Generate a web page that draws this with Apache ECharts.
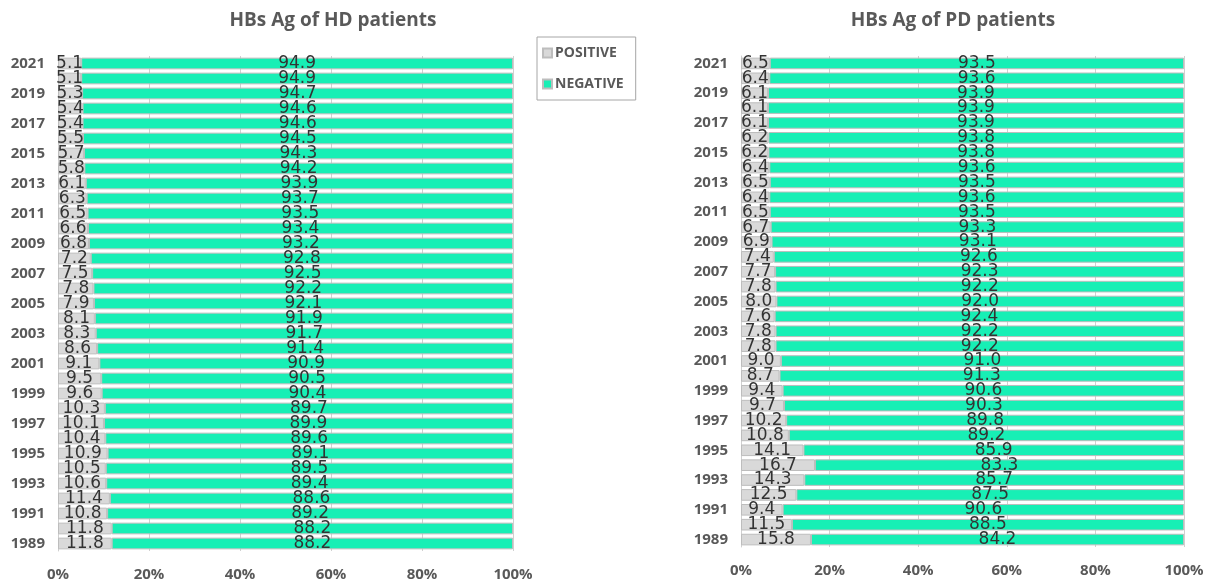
<!DOCTYPE html>
<html>
<head>
<meta charset="utf-8">
<script src="https://cdn.jsdelivr.net/npm/echarts@6/dist/echarts.min.js"></script>
<style>
html,body{margin:0;padding:0;background:#fff;}
#c{width:1211px;height:586px;}
</style>
</head>
<body>
<div id="c"></div>
<script>
const years = [];
for (let y = 1989; y <= 2021; y++) years.push(String(y));

const hdPositive = [11.8,11.8,10.8,11.4,10.6,10.5,10.9,10.4,10.1,10.3,9.6,9.5,9.1,8.6,8.3,8.1,7.9,7.8,7.5,7.2,6.8,6.6,6.5,6.3,6.1,5.8,5.7,5.5,5.4,5.4,5.3,5.1,5.1];
const hdNegative = [88.2,88.2,89.2,88.6,89.4,89.5,89.1,89.6,89.9,89.7,90.4,90.5,90.9,91.4,91.7,91.9,92.1,92.2,92.5,92.8,93.2,93.4,93.5,93.7,93.9,94.2,94.3,94.5,94.6,94.6,94.7,94.9,94.9];
const pdPositive = [15.8,11.5,9.4,12.5,14.3,16.7,14.1,10.8,10.2,9.7,9.4,8.7,9.0,7.8,7.8,7.6,8.0,7.8,7.7,7.4,6.9,6.7,6.5,6.4,6.5,6.4,6.2,6.2,6.1,6.1,6.1,6.4,6.5];
const pdNegative = [84.2,88.5,90.6,87.5,85.7,83.3,85.9,89.2,89.8,90.3,90.6,91.3,91.0,92.2,92.2,92.4,92.0,92.2,92.3,92.6,93.1,93.3,93.5,93.6,93.5,93.6,93.8,93.8,93.9,93.9,93.9,93.6,93.5];
const titles = ['HBs Ag of HD patients', 'HBs Ag of PD patients'];
const seriesNames = ['POSITIVE', 'NEGATIVE'];

const POS = '#d9d9d9', NEG = '#17efb5', GRAY = '#595959';
const labelStyle = {
  show: true, position: 'inside', color: '#333', fontSize: 17,
  fontFamily: 'DejaVu Sans', formatter: p => p.value.toFixed(1)
};

function xAxis(gi) {
  return {
    gridIndex: gi, type: 'value', min: 0, max: 100, interval: 20,
    axisLine: {show: false}, axisTick: {show: false},
    splitLine: {show: true, lineStyle: {color: '#d0d0d0', width: 1}},
    axisLabel: {formatter: '{value}%', color: GRAY, fontWeight: 'bold', fontSize: 15,
      fontFamily: 'Open Sans', margin: 16}
  };
}
function yAxis(gi) {
  return {
    gridIndex: gi, type: 'category', data: years,
    axisLine: {show: true, lineStyle: {color: '#d0d0d0'}}, axisTick: {show: false},
    axisLabel: {interval: 1, color: GRAY, fontWeight: 'bold', fontSize: 15,
      fontFamily: 'Open Sans', margin: 13}
  };
}
function bars(gi, pos, neg) {
  const common = {type: 'bar', stack: 's' + gi, xAxisIndex: gi, yAxisIndex: gi,
    barCategoryGap: '22%', label: labelStyle};
  return [
    Object.assign({}, common, {name: seriesNames[0], data: pos,
      itemStyle: {color: POS, borderColor: '#bdbdbd', borderWidth: 1}}),
    Object.assign({}, common, {name: seriesNames[1], data: neg,
      itemStyle: {color: NEG, borderColor: '#bdbdbd', borderWidth: 1}})
  ];
}

const chart = echarts.init(document.getElementById('c'));
chart.setOption({
  animation: false,
  title: [
    {text: titles[0], left: 328, top: 6, textAlign: 'center',
      textStyle: {color: GRAY, fontSize: 19, fontWeight: 'bold', fontFamily: 'Open Sans'}},
    {text: titles[1], left: 948, top: 6, textAlign: 'center',
      textStyle: {color: GRAY, fontSize: 19, fontWeight: 'bold', fontFamily: 'Open Sans'}}
  ],
  legend: {
    data: seriesNames, orient: 'vertical', left: 537, top: 37,
    icon: 'rect', itemWidth: 9, itemHeight: 9, itemGap: 17, padding: [9, 12, 9, 5],
    borderColor: '#a6a6a6', borderWidth: 1,
    textStyle: {color: GRAY, fontWeight: 'bold', fontSize: 14, fontFamily: 'Open Sans', padding: [0, 0, 0, -2]}
  },
  grid: [
    {left: 58, top: 56, width: 455, height: 495},
    {left: 741, top: 56, width: 443, height: 491}
  ],
  xAxis: [xAxis(0), xAxis(1)],
  yAxis: [yAxis(0), yAxis(1)],
  series: bars(0, hdPositive, hdNegative).concat(bars(1, pdPositive, pdNegative))
});
</script>
</body>
</html>
